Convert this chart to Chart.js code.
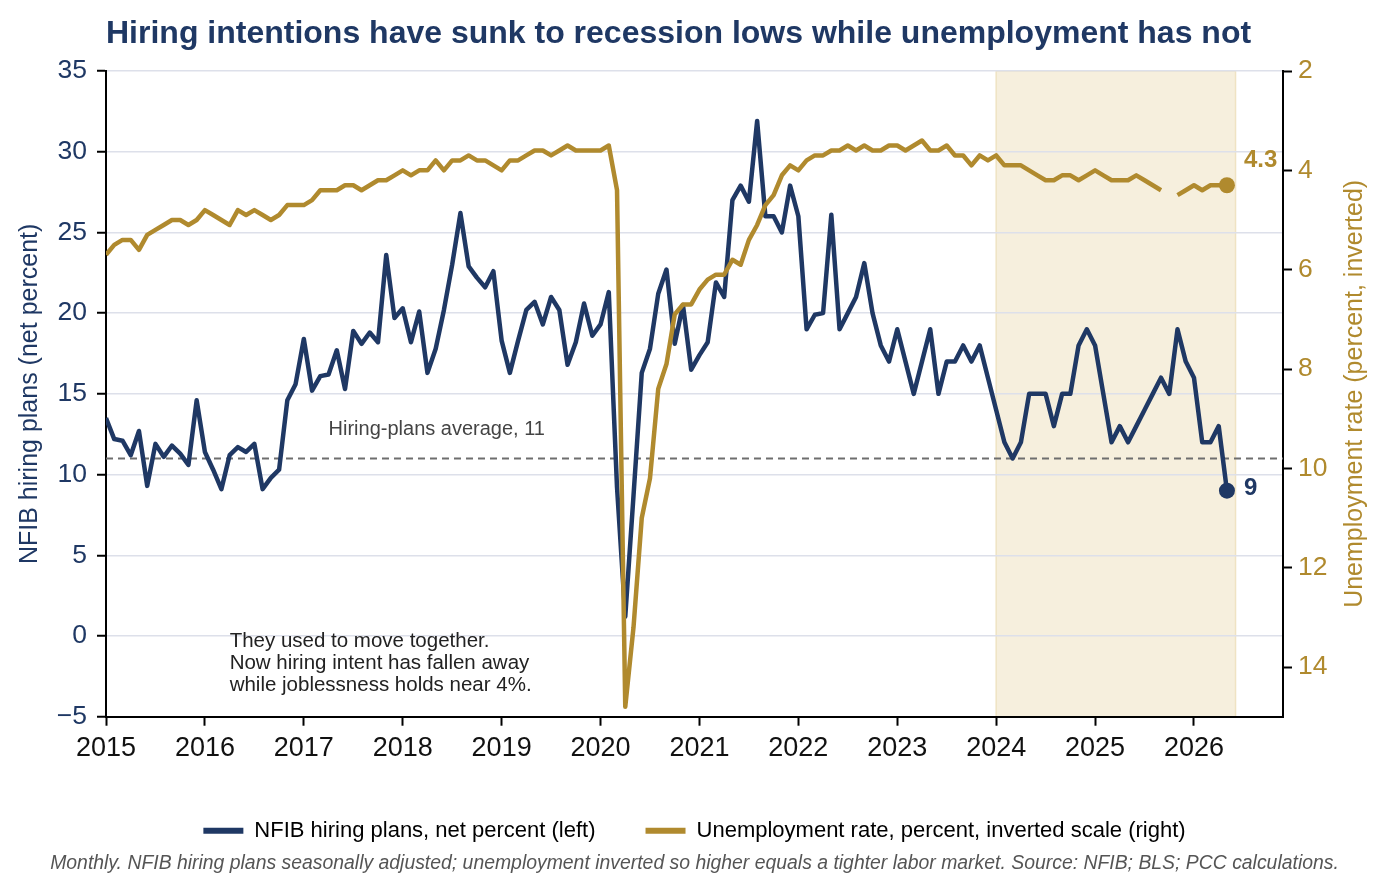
<!DOCTYPE html>
<html>
<head>
<meta charset="utf-8">
<title>Hiring intentions vs unemployment</title>
<script src="https://cdn.jsdelivr.net/npm/chart.js@4.4.1/dist/chart.umd.min.js"></script>
<style>
  html, body { margin: 0; padding: 0; background: #fff; }
  #wrap { width: 1389px; height: 893px; }
</style>
</head>
<body>
<div id="wrap"><canvas id="chart"></canvas></div>
<script>
// monthly series, Jan 2015 .. May 2026
const startYear = 2015;

// NFIB hiring plans, net percent
const hiringPlans = [
  13.5, 12.2, 12.1, 11.2, 12.7, 9.3, 11.9, 11.1, 11.8, 11.3, 10.6, 14.6,   // 2015
  11.4, 10.3, 9.1, 11.2, 11.7, 11.4, 11.9, 9.1, 9.8, 10.3, 14.6, 15.6,     // 2016
  18.4, 15.2, 16.1, 16.2, 17.7, 15.3, 18.9, 18.1, 18.8, 18.2, 23.6, 19.7,  // 2017
  20.3, 18.2, 20.1, 16.3, 17.8, 20.2, 23.0, 26.2, 22.9, 22.2, 21.6, 22.6,  // 2018
  18.3, 16.3, 18.3, 20.2, 20.7, 19.3, 21.0, 20.2, 16.8, 18.2, 20.6, 18.6,  // 2019
  19.3, 21.3, 9.2, 1.2, 8.7, 16.3, 17.8, 21.2, 22.7, 18.1, 20.5, 16.5,     // 2020
  17.4, 18.2, 21.9, 21.0, 27.0, 27.9, 26.9, 31.9, 26.0, 26.0, 25.0, 27.9,  // 2021
  26.0, 19.0, 19.9, 20.0, 26.1, 19.0, 20.0, 21.0, 23.1, 20.0, 18.0, 17.0,  // 2022
  19, 17, 15, 17, 19, 15, 17, 17, 18, 17, 18, 16,                          // 2023
  14, 12, 11, 12, 15, 15, 15, 13, 15, 15, 18, 19,                          // 2024
  18, 15, 12, 13, 12, 13, 14, 15, 16, 15, 19, 17,                          // 2025
  16, 12, 12, 13, 9                                                        // 2026
];

// unemployment rate, percent (Oct 2025 missing)
const unemployment = [
  5.7, 5.5, 5.4, 5.4, 5.6, 5.3, 5.2, 5.1, 5.0, 5.0, 5.1, 5.0,        // 2015
  4.8, 4.9, 5.0, 5.1, 4.8, 4.9, 4.8, 4.9, 5.0, 4.9, 4.7, 4.7,        // 2016
  4.7, 4.6, 4.4, 4.4, 4.4, 4.3, 4.3, 4.4, 4.3, 4.2, 4.2, 4.1,        // 2017
  4.0, 4.1, 4.0, 4.0, 3.8, 4.0, 3.8, 3.8, 3.7, 3.8, 3.8, 3.9,        // 2018
  4.0, 3.8, 3.8, 3.7, 3.6, 3.6, 3.7, 3.6, 3.5, 3.6, 3.6, 3.6,        // 2019
  3.6, 3.5, 4.4, 14.8, 13.2, 11.0, 10.2, 8.4, 7.9, 6.9, 6.7, 6.7,    // 2020
  6.4, 6.2, 6.1, 6.1, 5.8, 5.9, 5.4, 5.1, 4.7, 4.5, 4.1, 3.9,        // 2021
  4.0, 3.8, 3.7, 3.7, 3.6, 3.6, 3.5, 3.6, 3.5, 3.6, 3.6, 3.5,        // 2022
  3.5, 3.6, 3.5, 3.4, 3.6, 3.6, 3.5, 3.7, 3.7, 3.9, 3.7, 3.8,        // 2023
  3.7, 3.9, 3.9, 3.9, 4.0, 4.1, 4.2, 4.2, 4.1, 4.1, 4.2, 4.1,        // 2024
  4.0, 4.1, 4.2, 4.2, 4.2, 4.1, 4.2, 4.3, 4.4, null, 4.5, 4.4,       // 2025
  4.3, 4.4, 4.3, 4.3, 4.3                                            // 2026
];

const hiringAverage = 11;
const shadeStart = 2024;
const shadeEnd = 2026.42;

const navy = '#1f3864';
const gold = '#b08a2e';
const fontFamily = '"Liberation Sans", Arial, Helvetica, sans-serif';

const toPoints = (arr) => arr.map((v, i) => ({ x: startYear + i / 12, y: v }));
const lastDot = (ctx) => (ctx.dataIndex === ctx.dataset.data.length - 1 ? 8 : 0);

// shading, average line, notes, end labels, right axis title
const overlay = {
  id: 'overlay',
  beforeDraw(chart) {
    const { ctx, chartArea, scales } = chart;
    const x0 = scales.x.getPixelForValue(shadeStart);
    const x1 = scales.x.getPixelForValue(shadeEnd);
    ctx.save();
    ctx.fillStyle = '#f6efdd';
    ctx.fillRect(x0, chartArea.top, x1 - x0, chartArea.bottom - chartArea.top);
    ctx.strokeStyle = '#efe3c3';
    ctx.lineWidth = 1.5;
    ctx.strokeRect(x0, chartArea.top, x1 - x0, chartArea.bottom - chartArea.top);
    ctx.restore();
  },
  beforeDatasetsDraw(chart) {
    const { ctx, chartArea, scales } = chart;
    const y = scales.y.getPixelForValue(hiringAverage);
    ctx.save();
    ctx.strokeStyle = '#6e6e6e';
    ctx.lineWidth = 2;
    ctx.setLineDash([7, 5]);
    ctx.beginPath();
    ctx.moveTo(chartArea.left, y);
    ctx.lineTo(chartArea.right, y);
    ctx.stroke();
    ctx.restore();
  },
  afterDatasetsDraw(chart) {
    const { ctx, scales } = chart;
    const { x, y, y2 } = scales;
    ctx.save();
    ctx.textBaseline = 'middle';
    ctx.textAlign = 'left';

    ctx.fillStyle = '#444';
    ctx.font = '20px ' + fontFamily;
    ctx.fillText('Hiring-plans average, ' + hiringAverage, x.getPixelForValue(2017.25), y.getPixelForValue(12.8));

    ctx.fillStyle = '#222';
    ctx.font = '20.5px ' + fontFamily;
    const notes = ['They used to move together.', 'Now hiring intent has fallen away', 'while joblessness holds near 4%.'];
    const nx = x.getPixelForValue(2016.25);
    const ny = y.getPixelForValue(-0.3);
    notes.forEach((t, i) => ctx.fillText(t, nx, ny + i * 22));

    const lastIdx = hiringPlans.length - 1;
    const lx = x.getPixelForValue(startYear + lastIdx / 12) + 17;
    ctx.font = 'bold 24px ' + fontFamily;
    ctx.fillStyle = gold;
    ctx.fillText(unemployment[lastIdx].toFixed(1), lx, y2.getPixelForValue(unemployment[lastIdx]) - 25);
    ctx.fillStyle = navy;
    ctx.fillText(String(hiringPlans[lastIdx]), lx, y.getPixelForValue(hiringPlans[lastIdx]) - 2);
    ctx.restore();
  },
  afterDraw(chart) {
    const { ctx, chartArea } = chart;
    ctx.save();
    ctx.translate(chart.width - 34, (chartArea.top + chartArea.bottom) / 2);
    ctx.rotate(-Math.PI / 2);
    ctx.textAlign = 'center';
    ctx.textBaseline = 'middle';
    ctx.fillStyle = gold;
    ctx.font = '25px ' + fontFamily;
    ctx.fillText('Unemployment rate (percent, inverted)', 0, 0);
    ctx.restore();
  }
};

new Chart(document.getElementById('chart'), {
  type: 'line',
  data: {
    datasets: [
      {
        label: 'NFIB hiring plans, net percent (left)',
        data: toPoints(hiringPlans),
        yAxisID: 'y',
        borderColor: navy,
        backgroundColor: navy,
        borderWidth: 4.5,
        borderJoinStyle: 'round',
        pointRadius: lastDot,
        pointBackgroundColor: navy,
        pointBorderWidth: 0,
        order: 1
      },
      {
        label: 'Unemployment rate, percent, inverted scale (right)',
        data: toPoints(unemployment),
        yAxisID: 'y2',
        borderColor: gold,
        backgroundColor: gold,
        borderWidth: 4.5,
        borderJoinStyle: 'round',
        pointRadius: lastDot,
        pointBackgroundColor: gold,
        pointBorderWidth: 0,
        spanGaps: false,
        order: 0
      }
    ]
  },
  options: {
    responsive: true,
    maintainAspectRatio: false,
    devicePixelRatio: 1,
    animation: false,
    layout: { padding: { top: 0, left: 0, right: 0, bottom: 18 } },
    plugins: {
      tooltip: { enabled: false },
      title: {
        display: true,
        text: 'Hiring intentions have sunk to recession lows while unemployment has not',
        align: 'start',
        fullSize: false,
        color: navy,
        font: { family: fontFamily, size: 32, weight: 'bold' },
        padding: { top: 15, bottom: 17.6 }
      },
      legend: {
        position: 'bottom',
        labels: {
          boxWidth: 40,
          boxHeight: 6,
          padding: 50,
          color: '#111',
          font: { family: fontFamily, size: 22 },
          generateLabels: (chart) => chart.data.datasets.map((ds, i) => ({
            text: ds.label,
            fillStyle: ds.borderColor,
            strokeStyle: ds.borderColor,
            lineWidth: 0,
            hidden: false,
            datasetIndex: i
          }))
        }
      },
      subtitle: {
        display: true,
        position: 'bottom',
        text: 'Monthly. NFIB hiring plans seasonally adjusted; unemployment inverted so higher equals a tighter labor market. Source: NFIB; BLS; PCC calculations.',
        color: '#555',
        font: { family: fontFamily, size: 19.4, style: 'italic' },
        padding: { top: 0, bottom: 0 }
      }
    },
    scales: {
      x: {
        type: 'linear',
        min: 2015,
        max: 2026.9,
        afterFit: (s) => { s.height = 53; },
        ticks: {
          stepSize: 1,
          includeBounds: false,
          autoSkip: false,
          maxRotation: 0,
          padding: 7,
          color: '#111',
          font: { family: fontFamily, size: 27 },
          callback: (v) => String(v)
        },
        grid: { drawOnChartArea: false, tickLength: 9, tickColor: '#000', tickWidth: 2 },
        border: { color: '#000', width: 2 }
      },
      y: {
        position: 'left',
        min: -5,
        max: 35,
        afterFit: (s) => { s.width = 106; },
        ticks: {
          stepSize: 5,
          padding: 10,
          color: navy,
          font: { family: fontFamily, size: 26.5 },
          callback: (v) => (v < 0 ? '\u2212' + Math.abs(v) : String(v))
        },
        grid: { color: '#dde0ea', lineWidth: 1.5, tickLength: 9, tickColor: '#000', tickWidth: 2 },
        border: { color: '#000', width: 2 },
        title: {
          display: true,
          text: 'NFIB hiring plans (net percent)',
          color: navy,
          font: { family: fontFamily, size: 25 },
          padding: { top: 15, bottom: 0 }
        }
      },
      y2: {
        position: 'right',
        min: 2,
        max: 15,
        reverse: true,
        afterFit: (s) => { s.width = 106; },
        ticks: {
          stepSize: 2,
          includeBounds: false,
          padding: 6,
          color: gold,
          font: { family: fontFamily, size: 26.5 }
        },
        grid: { drawOnChartArea: false, tickLength: 9, tickColor: '#000', tickWidth: 2 },
        border: { color: '#000', width: 2 }
      }
    }
  },
  plugins: [overlay]
});
</script>
</body>
</html>
